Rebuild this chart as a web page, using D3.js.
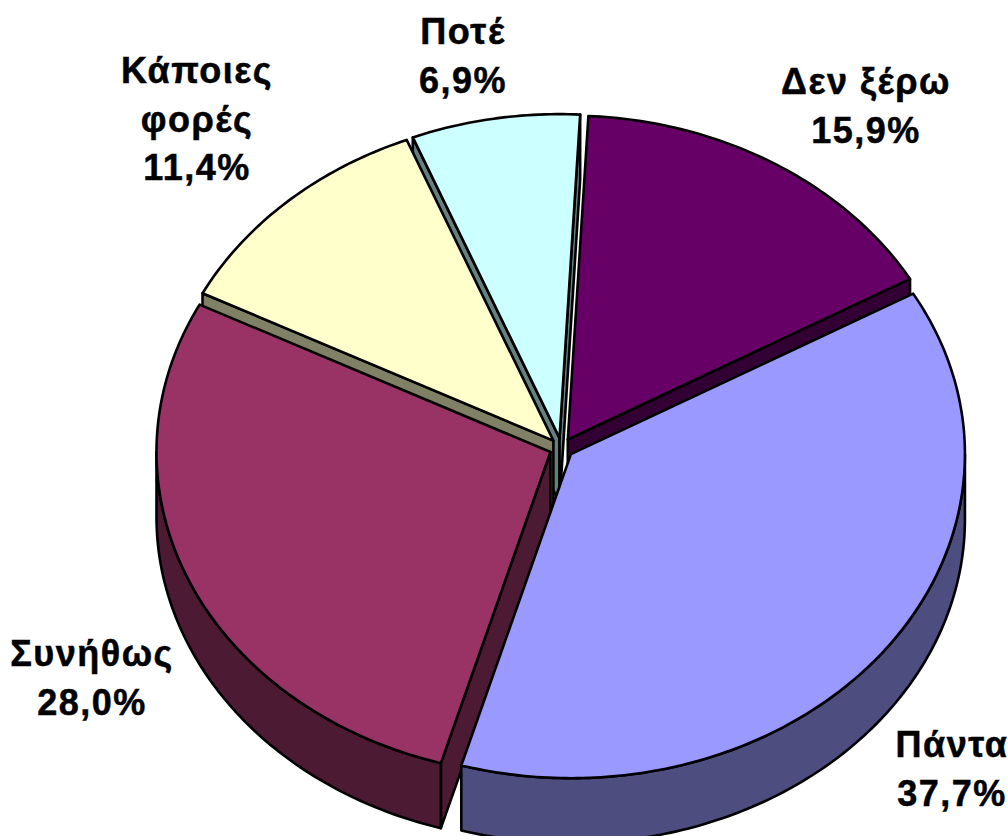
<!DOCTYPE html>
<html><head><meta charset="utf-8">
<style>html,body{margin:0;padding:0;background:#fff;overflow:hidden}svg{display:block}
text{font-family:"Liberation Sans",Arial,sans-serif;font-weight:bold;font-size:36px;letter-spacing:1.5px;fill:#000;text-anchor:middle;stroke:#000;stroke-width:.5px}</style>
<script src="https://cdn.jsdelivr.net/npm/d3@7/dist/d3.min.js"></script>
</head><body><svg id="c" width="1008" height="836"></svg>
<script>
const categories=["Δεν ξέρω","Πάντα","Συνήθως","Κάποιες φορές","Ποτέ"];
const values=[15.9,37.7,28.0,11.4,6.9];
const valueLabels=["15,9%","37,7%","28,0%","11,4%","6,9%"];
const labelLines=[["Δεν ξέρω"],["Πάντα"],["Συνήθως"],["Κάποιες","φορές"],["Ποτέ"]];
const colors=["#660066","#9999FF","#993366","#FFFFCC","#CCFFFF"];
const sideColors=["#330033","#4D4D80","#4D1A33","#808066","#668080"];
const drawOrder=[4,3,0,2,1];
const labelAnchors=[[866,82],[952,745],[92,654],[197,71],[463,32]];

const W=1008,H=836,cx=561.5,cy=448,rx=394,ry=324,depth=65,ex=12,ey=10,lineGap=48.5;
const svg=d3.select("#c");
const x=d3.scaleLinear().domain([-1,1]).range([cx-rx,cx+rx]);
const y=d3.scaleLinear().domain([-1,1]).range([cy-ry,cy+ry]);
const start=3*Math.PI/180;
const arcs=d3.pie().sort(null).startAngle(start).endAngle(start+2*Math.PI)(values);
const line=d3.line();
arcs.forEach(a=>{const m=(a.startAngle+a.endAngle)/2;a.dx=ex*Math.sin(m);a.dy=-ey*Math.cos(m);});
function pt(a,t,r=1,dz=0){return [x(r*Math.sin(t))+a.dx,y(-r*Math.cos(t))+a.dy+dz];}
function arcPts(a,t0,t1,dz=0){const n=Math.max(2,Math.ceil((t1-t0)/0.015));
  return d3.range(n+1).map(i=>pt(a,t0+(t1-t0)*i/n,1,dz));}
const g=svg.append("g").attr("stroke","#000").attr("stroke-width",2.6).attr("stroke-linejoin","round");
drawOrder.forEach(i=>{
  const a=arcs[i],t0=a.startAngle,t1=a.endAngle,side=sideColors[i];
  const wall=t=>{const A=pt(a,t,0),B=pt(a,t,1);
    g.append("path").attr("fill",side).attr("d",line([A,B,[B[0],B[1]+depth],[A[0],A[1]+depth]])+"Z");};
  if(Math.sin(t0)<0) wall(t0);
  if(Math.sin(t1)>0) wall(t1);
  // outer rim: the part of the arc facing the viewer, angles PI/2..3PI/2
  const r0=Math.max(t0,Math.PI/2),r1=Math.min(t1,3*Math.PI/2);
  if(r1>r0){
    const top=arcPts(a,r0,r1),bot=arcPts(a,r0,r1,depth).reverse();
    g.append("path").attr("fill",side).attr("d",line(top.concat(bot))+"Z");
  }
  const ring=[pt(a,0,0)].concat(arcPts(a,t0,t1));
  g.append("path").attr("fill",colors[i]).attr("d",line(ring)+"Z");
});
const tg=svg.append("g");
arcs.forEach((a,i)=>{
  const [ax,ay]=labelAnchors[i];
  const lines=labelLines[i].concat([valueLabels[i]]);
  lines.forEach((s,k)=>tg.append("text").attr("x",ax).attr("y",ay+k*lineGap+12).text(s));
});
</script></body></html>
